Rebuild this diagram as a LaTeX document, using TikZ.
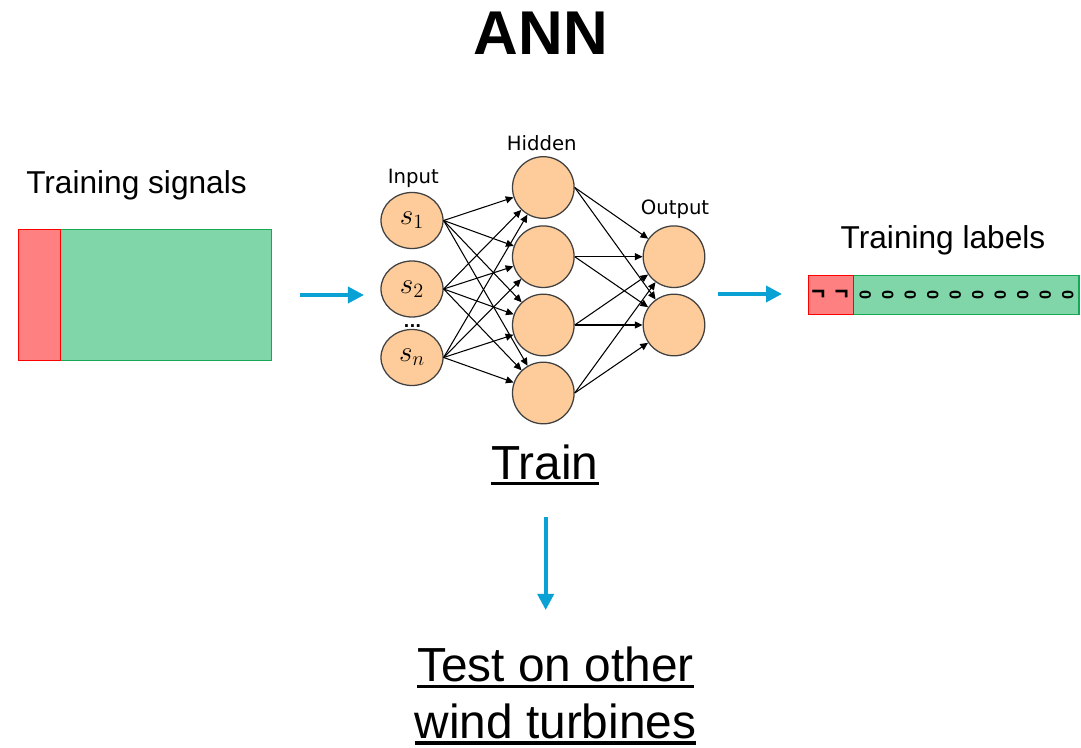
\documentclass[tikz,border=0pt]{standalone}
\usepackage[no-math]{fontspec}
\setmainfont{Liberation Sans}
\newfontfamily\netfont{DejaVu Sans}
\usetikzlibrary{arrows.meta,shapes.geometric}

\definecolor{peach}{RGB}{253,204,154}
\definecolor{rimgray}{RGB}{64,64,64}
\definecolor{flowblue}{RGB}{10,162,212}
\definecolor{badred}{RGB}{255,128,128}
\definecolor{goodgreen}{RGB}{128,214,168}
\definecolor{goodrim}{RGB}{22,168,86}

% underline with a heavier rule than \underline gives
\newcommand{\thickul}[1]{\leavevmode\vtop{\hbox{#1}\kern2pt\hrule height 2.2pt}}

\begin{document}
\begin{tikzpicture}[
		x=0.025cm, y=-0.025cm,
		>={Triangle[length=5.5pt,width=5pt]},
		unit/.style   ={circle,draw=rimgray,line width=0.9pt,fill=peach,minimum size=1.54cm,inner sep=0pt},
		inunit/.style ={ellipse,draw=rimgray,line width=0.9pt,fill=peach,minimum width=1.55cm,minimum height=1.4cm,inner sep=0pt,font=\fontsize{21}{24}\selectfont},
		layer/.style  ={anchor=base,inner sep=0pt,font=\netfont\fontsize{14}{16}\selectfont},
		heading/.style={anchor=base,inner sep=0pt,font=\fontsize{22.5}{27}\selectfont},
		caption/.style={inner sep=0pt,font=\fontsize{34}{40}\selectfont},
		badbox/.style ={draw=red,line width=0.8pt,fill=badred,inner sep=0pt},
		goodbox/.style={draw=goodrim,line width=0.8pt,fill=goodgreen,inner sep=0pt},
		bit/.style    ={inner sep=0pt,font=\bfseries\fontsize{11.5}{12}\selectfont},
		flag/.style   ={inner sep=0pt,font=\bfseries\fontsize{17}{18}\selectfont},
		wire/.style   ={draw,->,line width=0.75pt},
		flow/.style   ={draw=flowblue,line width=2.6pt,-{Triangle[length=0.4cm,width=0.4cm]}}
		]

		\useasboundingbox (0,0) rectangle (1081,748);

		% ---- title ----
		\node[anchor=base,inner sep=0pt,font=\bfseries\fontsize{44}{50}\selectfont] (title) at (541,55) {ANN};

		% ---- training signals (left) ----
		\node[heading] (siglbl) at (136.5,193.3) {Training signals};
		\node[goodbox,minimum width=5.275cm,minimum height=3.275cm] (siggood) at (166.2,294.8) {};
		\node[badbox,minimum width=1.06cm,minimum height=3.275cm] (sigbad) at (39.5,294.8) {};

		% ---- input layer ----
		\node[layer] (inlbl) at (413.3,183.3) {Input};
		\node[inunit] (s1) at (412,220.5) {$s_1$};
		\node[inunit] (s2) at (412,289) {$s_2$};
		\node[inunit] (sn) at (412,357.5) {$s_n$};
		\node[anchor=base,inner sep=0pt,font=\netfont\bfseries\fontsize{11}{12}\selectfont] (dots) at (412.5,327.5) {...};

		% ---- hidden layer ----
		\node[layer] (hidlbl) at (541.7,150.7) {Hidden};
		\node[unit] (h1) at (543.3,187.5) {};
		\node[unit] (h2) at (543.3,256.7) {};
		\node[unit] (h3) at (543.3,325) {};
		\node[unit] (h4) at (543.3,393) {};

		% ---- output layer ----
		\node[layer] (outlbl) at (675,215) {Output};
		\node[unit] (o1) at (674,256.7) {};
		\node[unit] (o2) at (674,325) {};

		% ---- input -> hidden ----
		\draw[wire] (s1.east) -- (h1);
		\draw[wire] (s1.east) -- (h2);
		\draw[wire] (s1.east) -- (h3);
		\draw[wire] (s1.east) -- (h4);
		\draw[wire] (s2.east) -- (h1);
		\draw[wire] (s2.east) -- (h2);
		\draw[wire] (s2.east) -- (h3);
		\draw[wire] (s2.east) -- (h4);
		\draw[wire] (sn.east) -- (h1);
		\draw[wire] (sn.east) -- (h2);
		\draw[wire] (sn.east) -- (h3);
		\draw[wire] (sn.east) -- (h4);

		% ---- hidden -> output ----
		\draw[wire] (h1.east) -- (o1);
		\draw[wire] (h1.east) -- (o2);
		\draw[wire] (h2.east) -- (o1);
		\draw[wire] (h2.east) -- (o2);
		\draw[wire] (h3.east) -- (o1);
		\draw[wire] (h3.east) -- (o2);
		\draw[wire] (h4.east) -- (o1);
		\draw[wire] (h4.east) -- (o2);

		% ---- training labels (right) ----
		\node[heading] (lbllbl) at (943,248.3) {Training labels};
		\node[goodbox,minimum width=5.64cm,minimum height=0.98cm] (lblgood) at (966.2,294.7) {};
		\node[badbox,minimum width=1.125cm,minimum height=0.98cm] (lblbad) at (830.8,294.7) {};
		\node[flag] (f1) at (818.3,295) {¬};
		\node[flag] (f2) at (841.7,295) {¬};
		\node[bit] (z1)  at (865.3,295) {\rotatebox{90}{0}};
		\node[bit] (z2)  at (887.8,295) {\rotatebox{90}{0}};
		\node[bit] (z3)  at (910.3,295) {\rotatebox{90}{0}};
		\node[bit] (z4)  at (932.8,295) {\rotatebox{90}{0}};
		\node[bit] (z5)  at (955.3,295) {\rotatebox{90}{0}};
		\node[bit] (z6)  at (977.8,295) {\rotatebox{90}{0}};
		\node[bit] (z7)  at (1000.3,295) {\rotatebox{90}{0}};
		\node[bit] (z8)  at (1022.8,295) {\rotatebox{90}{0}};
		\node[bit] (z9)  at (1045.3,295) {\rotatebox{90}{0}};
		\node[bit] (z10) at (1067.8,295) {\rotatebox{90}{0}};

		% ---- train / test ----
		\node[caption,anchor=base] (train) at (545,479) {\thickul{Train}};
		\node[caption,anchor=north,align=center] (test) at (555.5,647)
			{\thickul{Test on other}\\\thickul{wind turbines}};

		% ---- blue flow arrows ----
		\coordinate (sigout)   at (300,295);
		\coordinate (netin)    at (364,295);
		\coordinate (netout)   at (718,294);
		\coordinate (lblin)    at (782,294);
		\coordinate (trainout) at (545.7,517);
		\coordinate (testin)   at (545.7,610);
		\draw[flow] (sigout) -- (netin);
		\draw[flow] (netout) -- (lblin);
		\draw[flow] (trainout) -- (testin);

	\end{tikzpicture}
\end{document}
